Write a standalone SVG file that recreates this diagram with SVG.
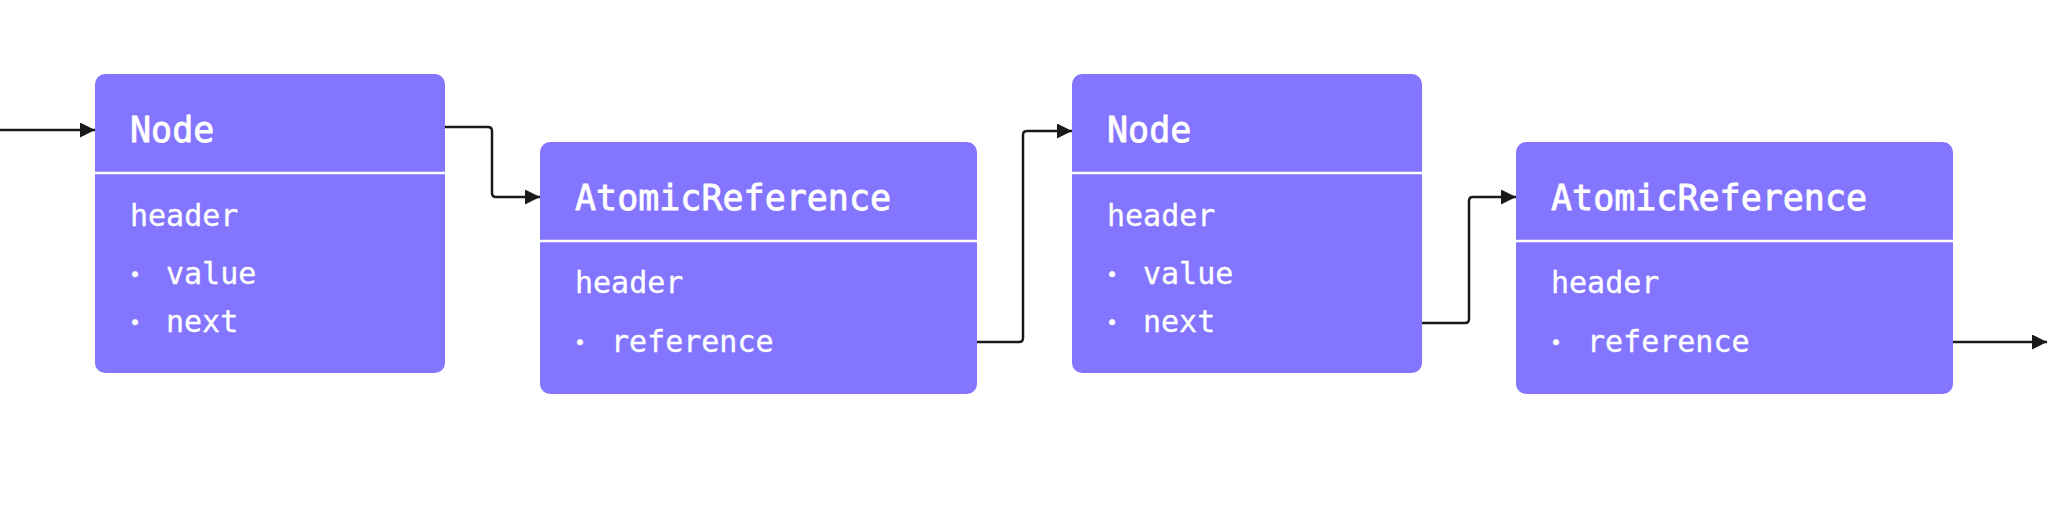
<svg xmlns="http://www.w3.org/2000/svg" width="2048" height="511" viewBox="0 0 2048 511">
<style>
.box{fill:#8475FF}
.sep{stroke:#FFFFFF;stroke-width:2.5}
.title{font-family:"DejaVu Sans Mono","Liberation Mono",monospace;font-size:35px;fill:#FFFFFF;stroke:#FFFFFF;stroke-width:0.8}
.body{font-family:"DejaVu Sans Mono","Liberation Mono",monospace;font-size:30px;fill:#FFFFFF;stroke:#FFFFFF;stroke-width:0.3}
.dot{font-size:20px}
.conn{fill:none;stroke:#1A1A1A;stroke-width:2.5;stroke-linejoin:round;marker-end:url(#arrow)}
</style>
<defs>
<marker id="arrow" markerUnits="userSpaceOnUse" markerWidth="15" markerHeight="15" refX="15" refY="7.5" orient="auto">
<path d="M0,0 L15,7.5 L0,15 Z" fill="#1A1A1A"/>
</marker>
</defs>
<rect width="2048" height="511" fill="#FFFFFF"/>
<g id="connectors">
<path class="conn" d="M0,130 H95"/>
<path class="conn" d="M445,127 H488 Q492,127 492,131 V193 Q492,197 496,197 H540"/>
<path class="conn" d="M977,342 H1019 Q1023,342 1023,338 V135 Q1023,131 1027,131 H1072"/>
<path class="conn" d="M1422,323 H1465 Q1469,323 1469,319 V201 Q1469,197 1473,197 H1516"/>
<path class="conn" d="M1953,342 H2047"/>
</g>
<g id="node1">
<rect class="box" x="95" y="74" width="350" height="299" rx="10"/>
<line class="sep" x1="95" y1="173" x2="445" y2="173"/>
<text class="title" x="130" y="142">Node</text>
<text class="body" x="130" y="226">header</text>
<text class="body" x="129" y="284"><tspan class="dot" dy="-3">•</tspan><tspan x="166" dy="3">value</tspan></text>
<text class="body" x="129" y="332"><tspan class="dot" dy="-3">•</tspan><tspan x="166" dy="3">next</tspan></text>
</g>
<g id="atomicref1">
<rect class="box" x="540" y="142" width="437" height="252" rx="10"/>
<line class="sep" x1="540" y1="241" x2="977" y2="241"/>
<text class="title" x="575" y="210">AtomicReference</text>
<text class="body" x="575" y="293">header</text>
<text class="body" x="574" y="352"><tspan class="dot" dy="-3">•</tspan><tspan x="611" dy="3">reference</tspan></text>
</g>
<g id="node2">
<rect class="box" x="1072" y="74" width="350" height="299" rx="10"/>
<line class="sep" x1="1072" y1="173" x2="1422" y2="173"/>
<text class="title" x="1107" y="142">Node</text>
<text class="body" x="1107" y="226">header</text>
<text class="body" x="1106" y="284"><tspan class="dot" dy="-3">•</tspan><tspan x="1143" dy="3">value</tspan></text>
<text class="body" x="1106" y="332"><tspan class="dot" dy="-3">•</tspan><tspan x="1143" dy="3">next</tspan></text>
</g>
<g id="atomicref2">
<rect class="box" x="1516" y="142" width="437" height="252" rx="10"/>
<line class="sep" x1="1516" y1="241" x2="1953" y2="241"/>
<text class="title" x="1551" y="210">AtomicReference</text>
<text class="body" x="1551" y="293">header</text>
<text class="body" x="1550" y="352"><tspan class="dot" dy="-3">•</tspan><tspan x="1587" dy="3">reference</tspan></text>
</g>
</svg>
